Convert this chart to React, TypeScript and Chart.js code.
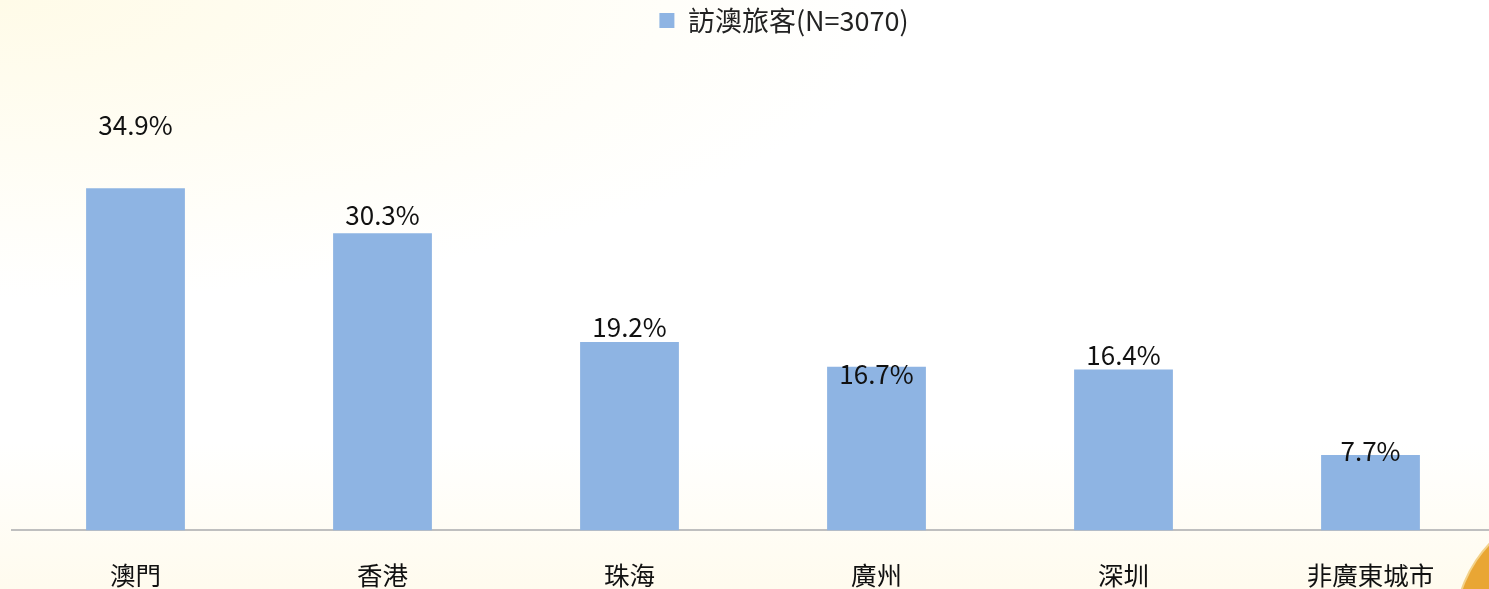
import React, { useEffect, useRef } from "react";
import { Chart, registerables } from "chart.js";

Chart.register(...registerables);

const categories = ["澳門", "香港", "珠海", "廣州", "深圳", "非廣東城市"];
const seriesName = "訪澳旅客(N=3070)";
const values = [34.9, 30.3, 19.2, 16.7, 16.4, 7.7];
// vertical nudge (px) of each value label relative to its bar top
const labelNudge = [-63, -18, -15, 7, -14, -4];

const FONT = "'Noto Sans CJK TC', 'Noto Sans', sans-serif";
const BAR_COLOR = "#8EB4E3";

const valueLabels = {
  id: "valueLabels",
  afterLayout(chart: any) {
    // the reference's legend sits a little right of the plot centre
    if (chart.legend) {
      chart.legend.left += 31;
      chart.legend.right += 31;
    }
  },
  afterDatasetsDraw(chart: any) {
    const { ctx } = chart;
    const meta = chart.getDatasetMeta(0);
    ctx.save();
    ctx.font = `26px ${FONT}`;
    ctx.fillStyle = "#111";
    ctx.textAlign = "center";
    ctx.textBaseline = "middle";
    meta.data.forEach((bar: any, i: number) => {
      const v = chart.data.datasets[0].data[i];
      ctx.fillText(v.toFixed(1) + "%", bar.x, bar.y + labelNudge[i]);
    });
    ctx.restore();
  },
};

export default function App() {
  const ref = useRef<HTMLCanvasElement | null>(null);
  useEffect(() => {
    if (!ref.current) return;
    const chart = new Chart(ref.current, {
      type: "bar",
      data: {
        labels: categories,
        datasets: [
          {
            label: seriesName,
            data: values,
            backgroundColor: BAR_COLOR,
            borderWidth: 0,
            categoryPercentage: 0.4,
            barPercentage: 1,
          },
        ],
      },
      options: {
        responsive: false,
        animation: false,
        layout: { padding: { top: 0, left: 12, right: 6, bottom: 0 } },
        plugins: {
          tooltip: { enabled: false },
          legend: {
            position: "top",
            labels: {
              font: { family: FONT, size: 27 },
              color: "#222",
              boxWidth: 15,
              boxHeight: 15,
              padding: 7,
            },
          },
        },
        scales: {
          x: {
            grid: { display: false, drawTicks: false },
            border: { display: true, color: "#BFBFBF", width: 2 },
            ticks: {
              font: { family: FONT, size: 25.5 },
              color: "#111",
              padding: 30,
            },
          },
          y: {
            display: false,
            min: 0,
            max: 49.6,
          },
        },
      },
      plugins: [valueLabels],
    });
    return () => chart.destroy();
  }, []);

  return (
    <div
      style={{
        position: "fixed",
        left: 0,
        top: 0,
        width: 1489,
        height: 589,
        overflow: "hidden",
        background:
          "radial-gradient(ellipse 900px 300px at 0% 0%, #fffbe8 0%, rgba(255,255,255,0) 100%), linear-gradient(to bottom, #ffffff 0%, #ffffff 75%, #fffbee 100%)",
      }}
    >
      <div
        style={{
          position: "absolute",
          left: 1456,
          top: 506,
          width: 248,
          height: 248,
          borderRadius: "50%",
          background: "#E9A634",
          boxShadow: "0 0 0 2px #f3d28a",
        }}
      />
      <canvas
        ref={ref}
        width={1500}
        height={621}
        style={{ position: "absolute", left: 0, top: 0, width: 1500, height: 621 }}
      />
    </div>
  );
}
